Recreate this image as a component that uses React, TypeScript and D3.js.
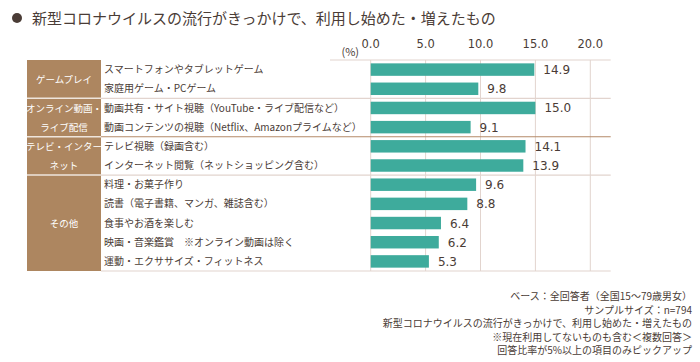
import * as d3 from "d3";

const title = "新型コロナウイルスの流行がきっかけで、利用し始めた・増えたもの";
const groups = [
  { name: ["ゲームプレイ"], count: 2 },
  { name: ["オンライン動画・", "ライブ配信"], count: 2 },
  { name: ["テレビ・インター", "ネット"], count: 2 },
  { name: ["その他"], count: 5 },
];
const items = [
  "スマートフォンやタブレットゲーム",
  "家庭用ゲーム・PCゲーム",
  "動画共有・サイト視聴（YouTube・ライブ配信など）",
  "動画コンテンツの視聴（Netflix、Amazonプライムなど）",
  "テレビ視聴（録画含む）",
  "インターネット閲覧（ネットショッピング含む）",
  "料理・お菓子作り",
  "読書（電子書籍、マンガ、雑誌含む）",
  "食事やお酒を楽しむ",
  "映画・音楽鑑賞　※オンライン動画は除く",
  "運動・エクササイズ・フィットネス",
];
const values = [14.9, 9.8, 15.0, 9.1, 14.1, 13.9, 9.6, 8.8, 6.4, 6.2, 5.3];
const ticks = [0, 5, 10, 15, 20];
const notes = [
  "ベース：全回答者（全国15～79歳男女）",
  "サンプルサイズ：n=794",
  "新型コロナウイルスの流行がきっかけで、利用し始めた・増えたもの",
  "※現在利用してないものも含む＜複数回答＞",
  "回答比率が5%以上の項目のみピックアップ",
];

const W = 700;
const H = 362;
const TEXT = "#4a3c36";
const BROWN = "#ad8660";
const GRID = "#e2d4ce";
const TEAL = "#3eab9c";
const FONT = "'Noto Sans CJK JP', 'Noto Sans', sans-serif";
const NUM_FONT = "'DejaVu Sans', Verdana, sans-serif";

export default function App() {
  const x = d3.scaleLinear().domain([0, 20]).range([370.7, 590.3]);
  const y = d3
    .scaleBand<number>()
    .domain(d3.range(items.length))
    .range([60, 271])
    .paddingInner(0.35)
    .paddingOuter(0.175);
  const step = y.step();
  const rowTop = (i: number) => (y(i) as number) - (step * 0.35) / 2;
  const rowMid = (i: number) => (y(i) as number) + y.bandwidth() / 2;

  const colL = 27;
  const colR = 101;
  const tableR = 610.7;

  // first row of each group
  const starts: number[] = [];
  let acc = 0;
  groups.forEach((g) => {
    starts.push(acc);
    acc += g.count;
  });

  return (
    <svg
      width={W}
      height={H}
      viewBox={`0 0 ${W} ${H}`}
      style={{ position: "absolute", left: 0, top: 0, background: "#fff" }}
      fontFamily={FONT}
    >
      <circle cx={17} cy={18} r={5} fill={TEXT} />
      <text x={32} y={23.5} fontSize={15} fill={TEXT}>
        {title}
      </text>

      <text x={359} y={56} fontSize={11} fill={TEXT} textAnchor="end">
        (%)
      </text>
      {ticks.map((t) => (
        <text
          key={t}
          x={x(t)}
          y={48}
          fontSize={11.5}
          fontFamily={NUM_FONT}
          fill={TEXT}
          textAnchor="middle"
        >
          {t.toFixed(1)}
        </text>
      ))}

      {/* vertical grid */}
      {ticks.map((t) => (
        <line key={"g" + t} x1={x(t)} x2={x(t)} y1={60} y2={271} stroke={GRID} strokeWidth={1} />
      ))}

      {/* brown category column */}
      <rect x={colL} y={60} width={colR - colL} height={211} fill={BROWN} />

      {/* horizontal separators */}
      {starts.map((s, gi) => (
        <line
          key={"s" + gi}
          x1={gi === 0 ? 330 : colR}
          x2={tableR}
          y1={rowTop(s)}
          y2={rowTop(s)}
          stroke={gi === 2 ? "#b58a68" : GRID}
          strokeWidth={1.2}
        />
      ))}
      {starts.slice(1).map((s, gi) => (
        <line
          key={"c" + gi}
          x1={colL}
          x2={colR}
          y1={rowTop(s)}
          y2={rowTop(s)}
          stroke="#efe5dc"
          strokeWidth={1.5}
        />
      ))}
      <line x1={colR} x2={tableR} y1={271} y2={271} stroke={GRID} strokeWidth={1.2} />

      {/* group names */}
      {groups.map((g, gi) => {
        const top = rowTop(starts[gi]);
        const bottom = gi < groups.length - 1 ? rowTop(starts[gi + 1]) : 271;
        const mid = (top + bottom) / 2;
        const lh = 19;
        return g.name.map((line, li) => (
          <text
            key={"n" + gi + li}
            x={(colL + colR) / 2}
            y={mid + (li - (g.name.length - 1) / 2) * lh + 3.5}
            fontSize={9.5}
            fill="#fff"
            textAnchor="middle"
          >
            {line}
          </text>
        ));
      })}

      {/* item labels */}
      {items.map((it, i) => (
        <text key={"l" + i} x={104} y={rowMid(i) + 3.6} fontSize={10} fill={TEXT}>
          {it}
        </text>
      ))}

      {/* bars */}
      {values.map((v, i) => (
        <rect
          key={"b" + i}
          x={x(0)}
          y={y(i)}
          width={x(v) - x(0)}
          height={y.bandwidth()}
          fill={TEAL}
        />
      ))}
      {values.map((v, i) => (
        <text
          key={"v" + i}
          x={x(v) + 9}
          y={rowMid(i) + 4.5}
          fontSize={12}
          fontFamily={NUM_FONT}
          fill={TEXT}
        >
          {v.toFixed(1)}
        </text>
      ))}

      {/* notes */}
      {notes.map((n, i) => (
        <text key={"f" + i} x={692} y={300 + i * 13.6} fontSize={10} fill={TEXT} textAnchor="end">
          {n}
        </text>
      ))}
    </svg>
  );
}
